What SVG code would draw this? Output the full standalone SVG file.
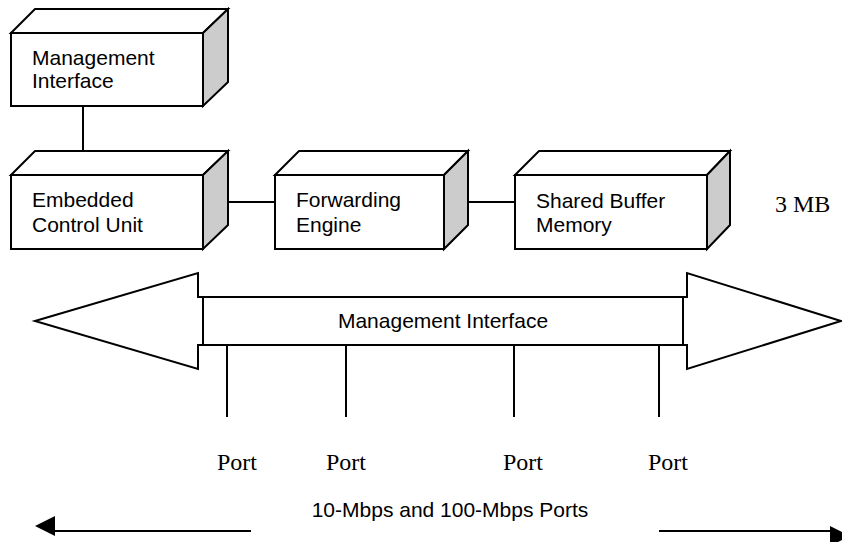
<svg xmlns="http://www.w3.org/2000/svg" width="842" height="542" viewBox="0 0 842 542">
<style>
.front{fill:#fff;stroke:#000;stroke-width:2;stroke-linejoin:miter}
.top{fill:#fff;stroke:#000;stroke-width:2}
.side{fill:#ccc;stroke:#000;stroke-width:2}
.lbl{font-family:"Liberation Sans",Arial,sans-serif;font-size:21px;fill:#000}
.ser{font-family:"Liberation Serif","Times New Roman",serif;font-size:24px;fill:#000}
.ln{stroke:#000;stroke-width:2;fill:none}
</style>
<defs>
<marker id="ah" viewBox="0 0 10 10" refX="0" refY="5" markerWidth="10" markerHeight="10" markerUnits="userSpaceOnUse" orient="auto" overflow="visible">
<path d="M0,0 L10,5 L0,10 Z" fill="#000" transform="scale(2)"/>
</marker>
</defs>
<rect width="842" height="542" fill="#fff"/>
<g id="connectors">
<line class="ln" x1="83" y1="106" x2="83" y2="151"/>
<line class="ln" x1="228" y1="202" x2="275" y2="202"/>
<line class="ln" x1="468" y1="202" x2="515" y2="202"/>
<line class="ln" x1="227" y1="345" x2="227" y2="417"/>
<line class="ln" x1="346" y1="345" x2="346" y2="417"/>
<line class="ln" x1="514" y1="345" x2="514" y2="417"/>
<line class="ln" x1="659" y1="345" x2="659" y2="417"/>
<line class="ln" x1="251" y1="531" x2="55" y2="531" marker-end="url(#ah)"/>
<line class="ln" x1="659" y1="531" x2="830" y2="531" marker-end="url(#ah)"/>
</g>
<g id="mgmt-top">
<polygon class="top" points="11,33 35,9 228,9 203,33"/>
<polygon class="side" points="203,33 228,9 228,82 203,106"/>
<rect class="front" x="11" y="33" width="192" height="73"/>
<text class="lbl" x="32" y="65">Management</text>
<text class="lbl" x="32" y="88">Interface</text>
</g>
<g id="ecu">
<polygon class="top" points="11,175 35,151 228,151 203,175"/>
<polygon class="side" points="203,175 228,151 228,225 203,249"/>
<rect class="front" x="11" y="175" width="192" height="74"/>
<text class="lbl" x="32" y="207">Embedded</text>
<text class="lbl" x="32" y="232">Control Unit</text>
</g>
<g id="forwarding">
<polygon class="top" points="275,175 299,151 468,151 444,175"/>
<polygon class="side" points="444,175 468,151 468,225 444,249"/>
<rect class="front" x="275" y="175" width="169" height="74"/>
<text class="lbl" x="296" y="207">Forwarding</text>
<text class="lbl" x="296" y="232">Engine</text>
</g>
<g id="shared-buffer">
<polygon class="top" points="515,175 539,151 730,151 707,175"/>
<polygon class="side" points="707,175 730,151 730,225 707,249"/>
<rect class="front" x="515" y="175" width="192" height="74"/>
<text class="lbl" x="536" y="208">Shared Buffer</text>
<text class="lbl" x="536" y="232">Memory</text>
</g>
<g id="size-label">
<text class="ser" x="775" y="212">3 MB</text>
</g>
<g id="backplane">
<polygon class="ln" style="fill:#fff" points="35,321 198,273 198,297 687,297 687,273 841,321 687,369 687,345 198,345 198,369"/>
<line class="ln" x1="203" y1="297" x2="203" y2="345"/>
<line class="ln" x1="683" y1="297" x2="683" y2="345"/>
<text class="lbl" x="443" y="328" text-anchor="middle">Management Interface</text>
</g>
<g id="ports">
<text class="ser" x="217" y="470">Port</text>
<text class="ser" x="326" y="470">Port</text>
<text class="ser" x="503" y="470">Port</text>
<text class="ser" x="648" y="470">Port</text>
</g>
<g id="ports-label">
<text class="lbl" x="450" y="517" text-anchor="middle">10-Mbps and 100-Mbps Ports</text>
</g>
</svg>
